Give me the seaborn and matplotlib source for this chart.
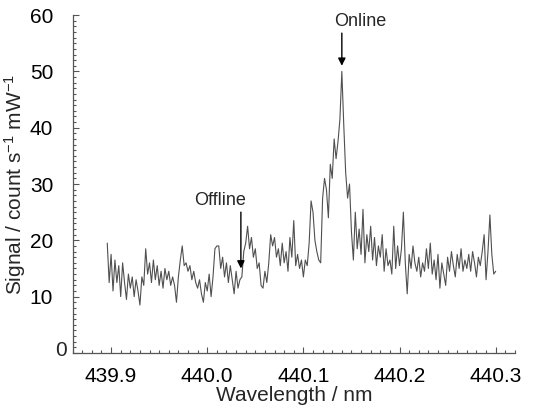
import numpy as np
import pandas as pd
import seaborn as sns
import matplotlib.pyplot as plt
from matplotlib.ticker import MultipleLocator

# === Data (0.002 nm sampling) ===
wl_start = 439.896
wl_step = 0.002

signal = [
    19.5, 12.5,
    17.5, 11.0, 16.5, 12.5, 15.5,   # 439.90
    10.0, 16.0, 12.5, 9.5, 14.0,    # 439.91
    11.5, 13.5, 10.0, 13.0, 11.0,   # 439.92
    8.5, 13.5, 12.0, 18.5, 14.0,    # 439.93
    16.0, 12.5, 16.5, 13.0, 15.5,   # 439.94
    12.0, 14.5, 11.5, 15.0, 13.0,   # 439.95
    14.5, 12.0, 13.5, 12.0, 9.0,    # 439.96
    13.5, 16.5, 19.0, 15.5, 16.0,   # 439.97
    14.5, 15.5, 13.0, 14.5, 12.5,   # 439.98
    11.5, 13.0, 10.5, 9.0, 12.5,    # 439.99
    11.0, 14.0, 10.0, 13.5, 18.5,   # 440.00
    19.0, 19.0, 15.0, 17.0, 13.5,   # 440.01
    16.0, 12.5, 15.5, 13.0, 10.5,   # 440.02
    14.5, 11.5, 13.0, 13.5, 18.0,   # 440.03
    19.5, 22.5, 18.5, 20.5, 17.0,   # 440.04
    18.5, 15.0, 16.0, 12.0, 11.5,   # 440.05
    14.5, 12.5, 16.0, 21.0, 19.0,   # 440.06
    20.5, 17.0, 18.5, 15.5, 19.5,   # 440.07
    16.0, 18.0, 14.5, 20.5, 17.0,   # 440.08
    23.5, 15.5, 17.5, 15.0, 16.5,   # 440.09
    13.5, 16.5, 15.5, 19.5, 27.0,   # 440.10
    25.0, 20.0, 18.0, 16.5, 16.0,   # 440.11
    27.5, 31.0, 29.0, 24.0, 33.5,   # 440.12
    31.0, 38.0, 34.5, 37.5, 41.5,   # 440.13
    50.0, 40.5, 32.0, 27.5, 30.0,   # 440.14
    21.5, 16.5, 25.0, 18.5, 22.0,   # 440.15
    17.5, 25.5, 16.0, 21.0, 18.0,   # 440.16
    22.5, 16.5, 20.5, 15.5, 19.0,   # 440.17
    17.0, 21.0, 14.5, 18.5, 15.5,   # 440.18
    16.5, 14.0, 22.5, 15.0, 19.0,   # 440.19
    15.5, 18.5, 25.0, 16.0, 10.5,   # 440.20
    17.5, 15.0, 19.0, 16.0, 14.5,   # 440.21
    17.0, 13.5, 16.0, 14.5, 18.5,   # 440.22
    15.0, 19.5, 14.0, 16.5, 13.0,   # 440.23
    17.5, 11.5, 16.0, 14.0, 12.0,   # 440.24
    17.0, 14.5, 18.0, 15.5, 13.5,   # 440.25
    17.5, 15.0, 18.5, 14.5, 16.5,   # 440.26
    15.0, 17.5, 14.5, 18.0, 16.0,   # 440.27
    13.5, 17.0, 15.5, 18.0, 21.0,   # 440.28
    13.0, 18.0, 24.5, 17.5, 14.0,   # 440.29
    14.5,
]

x_ticks = [439.9, 440.0, 440.1, 440.2, 440.3]
y_ticks = [0, 10, 20, 30, 40, 50, 60]

online_wl, online_tip = 440.14, 51.0
offline_wl, offline_tip = 440.035, 15.0

# === Plot ===
sns.set_style("ticks")
plt.rcParams['font.family'] = ['Liberation Sans', 'DejaVu Sans']
plt.rcParams['mathtext.fontset'] = 'custom'
plt.rcParams['mathtext.rm'] = 'Liberation Sans'
plt.rcParams['mathtext.it'] = 'Liberation Sans:italic'

df = pd.DataFrame({
    "wavelength": wl_start + wl_step * np.arange(len(signal)),
    "signal": signal,
})

fig = plt.figure(figsize=(5.42, 4.08), dpi=100)
ax = fig.add_axes([0.134, 0.135, 0.816, 0.828])
sns.lineplot(data=df, x="wavelength", y="signal", ax=ax,
             color="#505050", linewidth=0.8)

ax.set_xlim(439.86, 440.32)
ax.set_ylim(0, 60)
ax.set_xticks(x_ticks)
ax.set_xticklabels([f"{v:.1f}" for v in x_ticks])
ax.set_yticks(y_ticks)
# the zero label sits lower-right of the others in the original, drawn separately
ax.set_yticklabels([""] + [str(v) for v in y_ticks[1:]])
ax.xaxis.set_minor_locator(MultipleLocator(0.01))
ax.yaxis.set_minor_locator(MultipleLocator(1))
ax.tick_params(which="both", direction="in", colors="#555555",
               labelcolor="black", labelsize=15, width=0.8)
ax.tick_params(axis="x", which="major", length=4.5, pad=10)
ax.tick_params(axis="y", which="major", length=4.5, pad=14)
ax.tick_params(which="minor", length=2.2)
ax.text(-0.013, 0.008, "0", transform=ax.transAxes, ha="right", va="center",
        fontsize=15)

sns.despine(ax=ax)
for side in ("left", "bottom"):
    ax.spines[side].set_color("#555555")
    ax.spines[side].set_linewidth(0.9)

ax.set_xlabel("Wavelength / nm", fontsize=15, labelpad=0)
ax.set_ylabel("Signal / count s$^{-1}$ mW$^{-1}$", fontsize=15, labelpad=1)

arrow = dict(arrowstyle="-|>", color="black", lw=1.0, mutation_scale=11,
             shrinkA=0, shrinkB=0)
ax.annotate("", xy=(online_wl, online_tip), xytext=(online_wl, 56.8),
            arrowprops=arrow)
ax.text(online_wl + 0.019, 58.8, "Online", ha="center", va="center", fontsize=13)
ax.annotate("", xy=(offline_wl, offline_tip), xytext=(offline_wl, 25.0),
            arrowprops=arrow)
ax.text(440.013, 27.1, "Offline", ha="center", va="center", fontsize=13)

fig.savefig("out.png", dpi=100)
